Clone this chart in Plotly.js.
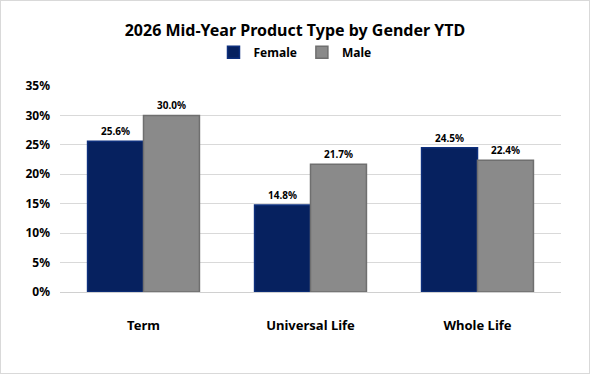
<!DOCTYPE html>
<html>
<head>
<meta charset="utf-8">
<script src="https://cdn.plot.ly/plotly-3.0.1.min.js"></script>
<style>
  html, body { margin: 0; padding: 0; background: #fff; }
  #chart { width: 588px; height: 372px; border: 1px solid #d9d9d9; }
</style>
</head>
<body>
<div id="chart"></div>
<script>
// Product type share by gender, mid-year YTD
const categories = ["Term", "Universal Life", "Whole Life"];
const female = [0.256, 0.148, 0.245];
const male = [0.300, 0.217, 0.224];
const yTickVals = [0, 0.05, 0.10, 0.15, 0.20, 0.25, 0.30, 0.35];

const fontFamily = "'Noto Sans', 'DejaVu Sans', sans-serif";

function barTrace(name, values, fill, edge) {
  return {
    type: "bar",
    name: name,
    x: categories,
    y: values,
    marker: { color: fill, line: { color: edge, width: 1.5 } },
    text: values.map(v => (v * 100).toFixed(1) + "%"),
    textposition: "outside",
    cliponaxis: false,
    textfont: { family: fontFamily, size: 10, color: "#000", weight: 700 },
    hoverinfo: "skip"
  };
}

const data = [
  barTrace("Female", female, "#06215f", "#0d2f7c"),
  barTrace("Male", male, "#8a8a8a", "#6f6f6f")
];

const layout = {
  width: 588,
  height: 372,
  margin: { l: 59, r: 28, t: 85, b: 81 },
  paper_bgcolor: "#fff",
  plot_bgcolor: "#fff",
  font: { family: fontFamily, color: "#000" },
  title: {
    text: "<b>2026 Mid-Year Product Type by Gender YTD</b>",
    font: { family: fontFamily, size: 16, color: "#000" },
    x: 0.5, xanchor: "center",
    y: 0.922, yanchor: "middle"
  },
  showlegend: true,
  legend: {
    orientation: "h",
    x: 0.5, xanchor: "center", xref: "container",
    y: 0.862, yanchor: "middle", yref: "container",
    font: { family: fontFamily, size: 12, color: "#000", weight: 700 },
    itemwidth: 30,
    traceorder: "normal"
  },
  barmode: "group",
  bargap: 0.33,
  bargroupgap: 0,
  xaxis: {
    showgrid: false,
    showline: false,
    zeroline: false,
    ticks: "",
    ticklabelstandoff: 24,
    tickfont: { family: fontFamily, size: 13, color: "#000", weight: 700 }
  },
  yaxis: {
    range: [0, 0.35],
    tickvals: yTickVals,
    tickformat: ".0%",
    showgrid: true,
    gridcolor: "#d9d9d9",
    gridwidth: 1,
    zeroline: true,
    zerolinecolor: "#d0d0d0",
    zerolinewidth: 1,
    showline: false,
    ticks: "",
    ticklabelstandoff: 9,
    tickfont: { family: fontFamily, size: 12, color: "#000", weight: 700 }
  }
};

Plotly.newPlot("chart", data, layout, { displayModeBar: false, staticPlot: true });
</script>
</body>
</html>
